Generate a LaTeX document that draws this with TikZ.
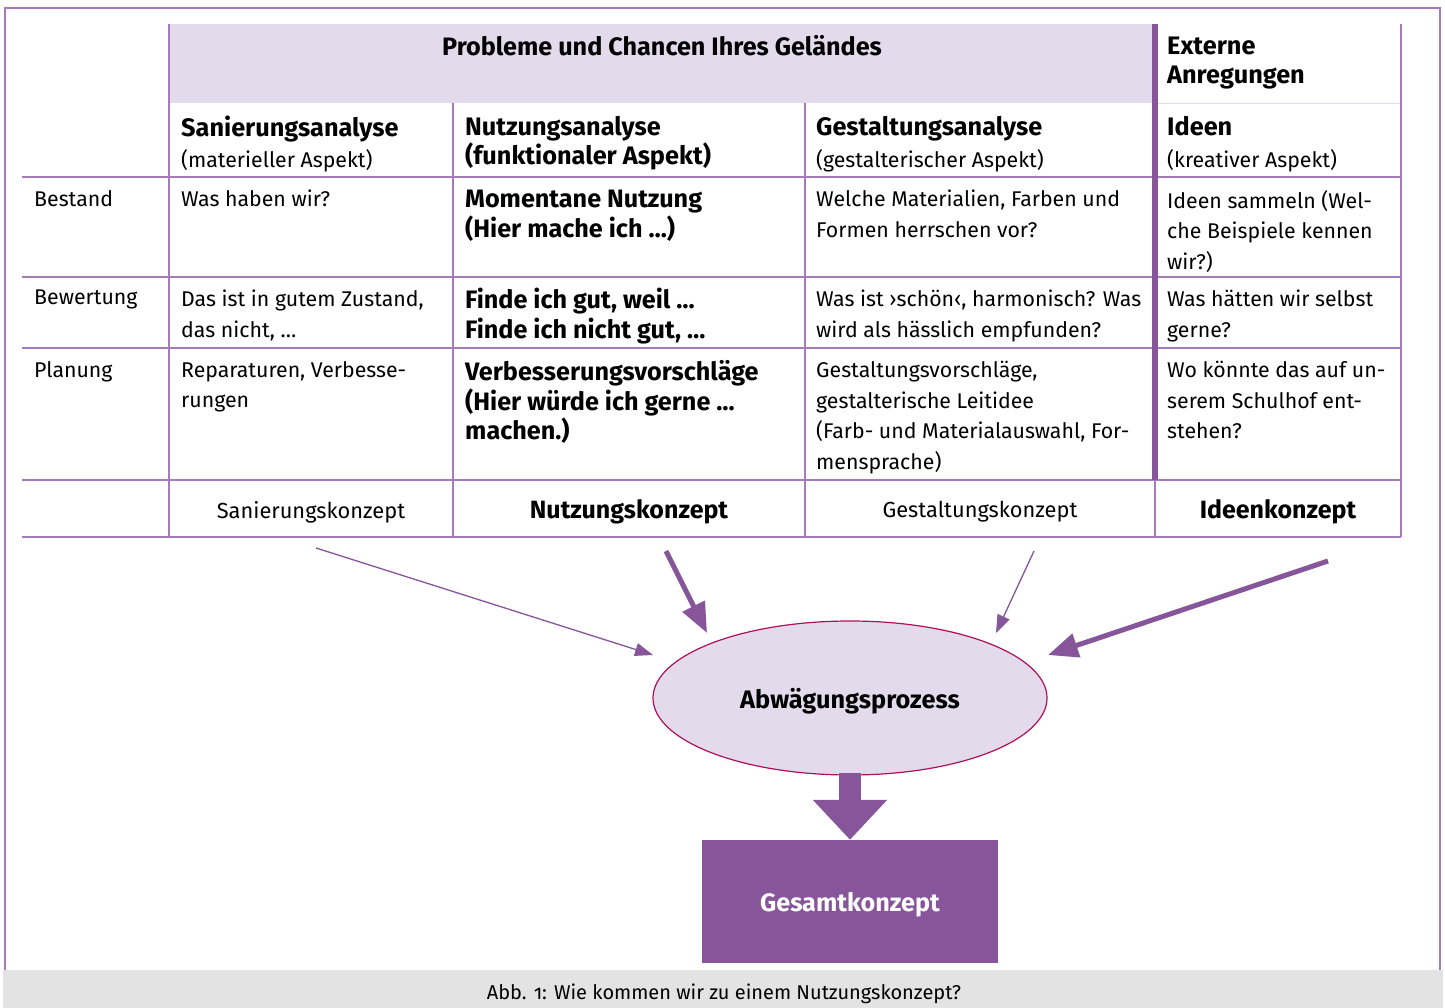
\documentclass[tikz,border=0pt]{standalone}
\usepackage{fontspec}
\setmainfont{Fira Sans}
\usetikzlibrary{arrows.meta,shapes.geometric}
\definecolor{lilac}{HTML}{A67BB9}
\definecolor{dpurple}{HTML}{87559A}
\definecolor{hfill}{HTML}{E3DAEC}
\definecolor{capgray}{HTML}{E3E3E3}
\definecolor{ellborder}{HTML}{B0105A}
\tikzset{
  tline/.style={draw=lilac, line width=1.5pt},
  cell/.style={anchor=north west, inner sep=0pt, align=left, font=\fontsize{21.3}{30.5}\selectfont},
  bcell/.style={anchor=north west, inner sep=0pt, align=left, font=\fontsize{25.2}{29.8}\selectfont\bfseries},
  ttl/.style={anchor=north west, inner sep=0pt, align=left, font=\fontsize{25.3}{29}\selectfont\bfseries},
  foot/.style={inner sep=0pt, font=\fontsize{21.8}{24}\selectfont},
  bfoot/.style={inner sep=0pt, font=\fontsize{25}{28}\selectfont\bfseries},
  thinarrow/.style={draw=dpurple, line width=1.3pt, -{Triangle[length=18pt,width=13pt]}},
  thickarrow/.style={draw=dpurple, line width=5pt, -{Triangle[length=30pt,width=24pt]}},
}
\begin{document}
\begin{tikzpicture}[x=1pt,y=-1pt]
\path[use as bounding box, fill=white] (0,0) rectangle (1445,1008);
% outer frame
\draw[draw=lilac, line width=1.5pt] (5,970) -- (5,8) -- (1440,8) -- (1440,970);
\fill[capgray] (3,970) rectangle (1443,1008);
\node[inner sep=0pt, font=\fontsize{20}{22}\selectfont\addfontfeatures{Numbers=OldStyle}] (cap) at (724,994) {Abb. 1: Wie kommen wir zu einem Nutzungskonzept?};
% header fill
\fill[hfill] (169,24) rectangle (1152,103);
\draw[draw=hfill, line width=1pt] (1158,104) -- (1401,104);
% table lines
\draw[tline] (22,177) -- (1401,177);
\draw[tline] (22,277) -- (1401,277);
\draw[tline] (22,348) -- (1401,348);
\draw[tline] (22,480) -- (1401,480);
\draw[tline] (22,537) -- (1401,537);
\draw[tline] (169,24) -- (169,537);
\draw[tline] (1401,24) -- (1401,537);
\draw[tline] (453,103) -- (453,537);
\draw[tline] (805,103) -- (805,537);
\draw[tline] (1155,480) -- (1155,537);
\fill[dpurple] (1152,24) rectangle (1158,480);
% header texts
\node[inner sep=0pt, font=\fontsize{25.2}{28}\selectfont\bfseries] (hdr) at (662,46) {Probleme und Chancen Ihres Geländes};
\node[ttl] (ext) at (1167,37) {Externe\\Anregungen};
% sub headers
\node[ttl] (t1) at (181,116) {Sanierungsanalyse};
\node[cell] (s1) at (181,149) {(materieller Aspekt)};
\node[ttl] (t2) at (465,116) {Nutzungsanalyse\\(funktionaler Aspekt)};
\node[ttl] (t3) at (816,116) {Gestaltungsanalyse};
\node[cell] (s3) at (816,149) {(gestalterischer Aspekt)};
\node[ttl] (t4) at (1167,116) {Ideen};
\node[cell] (s4) at (1167,149) {(kreativer Aspekt)};
% row labels
\node[cell] (r1) at (34,190) {Bestand};
\node[cell] (r2) at (34,290) {Bewertung};
\node[cell] (r3) at (34,361) {Planung};
% Bestand row
\node[cell] (c11) at (181,190) {Was haben wir?};
\node[bcell] (c12) at (465,190) {Momentane Nutzung\\(Hier mache ich …)};
\node[cell] (c13) at (816,190) {Welche Materialien, Farben und\\Formen herrschen vor?};
\node[cell] (c14) at (1167,190) {Ideen sammeln (Wel-\\che Beispiele kennen\\wir?)};
% Bewertung row
\node[cell] (c21) at (181,290) {Das ist in gutem Zustand,\\das nicht, …};
\node[bcell] (c22) at (465,288) {Finde ich gut, weil …\\Finde ich nicht gut, …};
\node[cell] (c23) at (816,290) {Was ist ›schön‹, harmonisch? Was\\wird als hässlich empfunden?};
\node[cell] (c24) at (1167,290) {Was hätten wir selbst\\gerne?};
% Planung row
\node[cell] (c31) at (181,361) {Reparaturen, Verbesse-\\rungen};
\node[bcell] (c32) at (465,360) {Verbesserungsvorschläge\\(Hier würde ich gerne …\\machen.)};
\node[cell] (c33) at (816,361) {Gestaltungsvorschläge,\\gestalterische Leitidee\\(Farb- und Materialauswahl, For-\\mensprache)};
\node[cell] (c34) at (1167,361) {Wo könnte das auf un-\\serem Schulhof ent-\\stehen?};
% footer row
\node[foot] (k1) at (311,512) {Sanierungskonzept};
\node[bfoot] (k2) at (629,512) {Nutzungskonzept};
\node[foot] (k3) at (980,512) {Gestaltungskonzept};
\node[bfoot] (k4) at (1278,512) {Ideenkonzept};
% process
\node[ellipse, draw=ellborder, line width=1.2pt, fill=hfill, minimum width=394pt, minimum height=154pt, inner sep=0pt, text depth=0pt, font=\fontsize{25.3}{28}\selectfont\bfseries] (ell) at (850,698) {Abwägungsprozess};
\node[rectangle, fill=dpurple, minimum width=296pt, minimum height=123pt, inner sep=0pt, text depth=0pt, text=white, font=\fontsize{25.2}{28}\selectfont\bfseries] (ges) at (850,901.5) {Gesamtkonzept};
% arrow anchors
\coordinate (a1s) at (316,548);
\coordinate (a1e) at (653,655);
\coordinate (a2s) at (666,551);
\coordinate (a2e) at (707,633);
\coordinate (a3s) at (1034,551);
\coordinate (a3e) at (996,633);
\coordinate (a4s) at (1328,561);
\coordinate (a4e) at (1048,655);
\draw[thinarrow] (a1s) -- (a1e);
\draw[thickarrow] (a2s) -- (a2e);
\draw[thinarrow] (a3s) -- (a3e);
\draw[thickarrow] (a4s) -- (a4e);
\draw[draw=dpurple, line width=22pt, -{Triangle[length=40pt,width=72pt]}] ([yshift=3pt]ell.south) -- (ges.north);
\end{tikzpicture}
\end{document}
